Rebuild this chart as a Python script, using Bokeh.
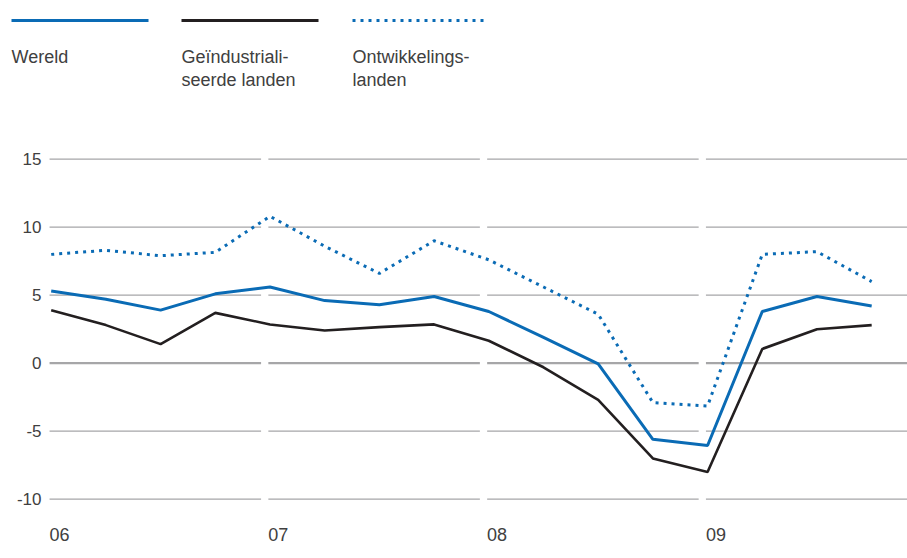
from bokeh.plotting import figure
from bokeh.layouts import column
from bokeh.models import Range1d
from bokeh.core.properties import value
from bokeh.embed import file_html
from bokeh.resources import INLINE

# ---- data (quarterly, 2006 Q1 .. 2009 Q4) ----
quarters = list(range(16))
wereld = [5.3, 4.7, 3.9, 5.1, 5.6, 4.6, 4.3, 4.9, 3.8, 1.9, -0.05, -5.6, -6.05, 3.8, 4.9, 4.2]
geindustrialiseerd = [3.9, 2.8, 1.4, 3.7, 2.85, 2.4, 2.65, 2.85, 1.65, -0.3, -2.7, -7.0, -8.0, 1.05, 2.5, 2.8]
ontwikkeling = [8.0, 8.3, 7.9, 8.15, 10.8, 8.6, 6.6, 9.0, 7.6, 5.6, 3.6, -2.9, -3.15, 8.0, 8.2, 6.0]
y_ticks = [15, 10, 5, 0, -5, -10]
year_labels = ["06", "07", "08", "09"]
year_starts = [0, 4, 8, 12]
legend_labels = [["Wereld"], ["Geïndustriali-", "seerde landen"], ["Ontwikkelings-", "landen"]]

BLUE = "#0a6bb5"
BLACK = "#231f20"
GRID = "#a6a6a8"
TEXT = "#404040"
FONT = value("Liberation Sans")

W = 907
LEG_H = 118
MAIN_H = 440

# ---- legend strip ----
leg = figure(width=W, height=LEG_H, x_range=Range1d(0, W), y_range=Range1d(LEG_H, 0),
             output_backend="svg", toolbar_location=None, min_border=0,
             x_axis_type=None, y_axis_type=None, outline_line_color=None)
leg.grid.visible = False
leg_x0 = [11, 181, 352]
leg_x1 = [148, 318, 488]
leg.segment(x0=[leg_x0[0]], x1=[leg_x1[0]], y0=[20], y1=[20], line_color=BLUE, line_width=3)
leg.segment(x0=[leg_x0[1]], x1=[leg_x1[1]], y0=[20], y1=[20], line_color=BLACK, line_width=3)
leg.segment(x0=[leg_x0[2]], x1=[leg_x1[2]], y0=[20], y1=[20], line_color=BLUE, line_width=3,
            line_dash="3 5")
tx, ty, tt = [], [], []
for i, lines in enumerate(legend_labels):
    for j, s in enumerate(lines):
        tx.append(leg_x0[i])
        ty.append(56.7 + 22.3 * j)
        tt.append(s)
leg.text(x=tx, y=ty, text=tt, text_align="left", text_baseline="alphabetic",
         text_font=FONT, text_font_size="18px", text_color=TEXT)

# ---- main chart ----
p = figure(width=W, height=MAIN_H, x_range=Range1d(-0.927, 15.655), y_range=Range1d(-14.36, 17.99),
           output_backend="svg", toolbar_location=None, min_border=0,
           x_axis_type=None, y_axis_type=None, outline_line_color=None)
p.grid.visible = False

# gridline segments per year with small gaps
gap = 0.133
lead = 0.03
for k, s in enumerate(year_starts):
    x0 = s - lead
    x1 = (year_starts[k + 1] - lead - gap) if k + 1 < len(year_starts) else p.x_range.end
    for v in y_ticks:
        p.segment(x0=[x0], x1=[x1], y0=[v], y1=[v], line_color=GRID,
                  line_width=2.3 if v == 0 else 1.2)

p.line(quarters, ontwikkeling, line_color=BLUE, line_width=3, line_dash="3 5")
p.line(quarters, geindustrialiseerd, line_color=BLACK, line_width=2.6)
p.line(quarters, wereld, line_color=BLUE, line_width=3)

p.text(x=[0] * len(y_ticks), y=y_ticks, text=[str(v) for v in y_ticks], x_offset=-9.7,
       text_align="right", text_baseline="alphabetic", text_font=FONT,
       text_font_size="17px", text_color=TEXT)
p.text(x=year_starts, y=[y_ticks[-1]] * len(year_starts), text=year_labels, x_offset=-1.7,
       y_offset=35, text_align="left", text_baseline="alphabetic", text_font=FONT,
       text_font_size="18px", text_color=TEXT)

layout = column(leg, p, spacing=0)
open("out.html", "w").write(file_html(layout, INLINE))
